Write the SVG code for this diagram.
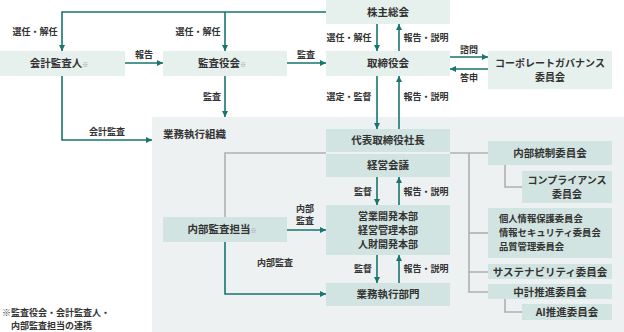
<svg xmlns="http://www.w3.org/2000/svg" width="624" height="332" viewBox="0 0 624 332">
<style>
text{font-family:"Noto Sans CJK JP","Noto Sans CJK SC",sans-serif;fill:#333;}
.n{font-size:10.5px;font-weight:700;text-anchor:middle;}
.m{font-size:10px;font-weight:700;text-anchor:middle;}
.s{font-size:9.3px;font-weight:700;}
.l{font-size:9px;font-weight:700;text-anchor:middle;}
.k{font-size:6px;fill:#999;font-weight:400;}
.top{fill:#e6f1ee;}
.in{fill:#d2e4e1;}
.ta{fill:none;stroke:#16756f;stroke-width:1.6;marker-end:url(#arr);}
.g{fill:none;stroke:#b0b0b0;stroke-width:1.6;}
</style>
<defs>
<marker id="arr" viewBox="0 0 6 6" refX="6" refY="3" markerWidth="6" markerHeight="6" markerUnits="userSpaceOnUse" orient="auto">
<path d="M0,0 L6,3 L0,6 z" fill="#16756f"/>
</marker>
</defs>
<rect x="0" y="0" width="624" height="332" fill="#fff"/>
<g id="org">
<rect x="152" y="117" width="472" height="215" fill="#eef1f2"/>
<text x="163" y="138" style="font-size:10.5px;font-weight:700">業務執行組織</text>
</g>
<g id="connectors">
<path class="g" d="M326,153 H225 V217"/>
<path class="g" d="M450,153 H488"/>
<path class="g" d="M469,153 V292 H488"/>
<path class="g" d="M469,233 H488"/>
<path class="g" d="M469,272 H488"/>
<path class="g" d="M505,165 V187 H522"/>
<path class="g" d="M505,299 V312 H522"/>
<path class="ta" d="M326,12 H62 V51"/>
<path class="ta" d="M225,12 V51"/>
<path class="ta" d="M125,63 H163"/>
<path class="ta" d="M287,63 H326"/>
<path class="ta" d="M225,76 V117"/>
<path class="ta" d="M62,76 V140 H152"/>
<path class="ta" d="M377,24 V51"/>
<path class="ta" d="M399,51 V24"/>
<path class="ta" d="M450,57 H488"/>
<path class="ta" d="M488,69 H450"/>
<path class="ta" d="M377,76 V129"/>
<path class="ta" d="M399,129 V76"/>
<path class="ta" d="M377,177 V205"/>
<path class="ta" d="M399,205 V177"/>
<path class="ta" d="M377,255 V283"/>
<path class="ta" d="M399,283 V255"/>
<path class="ta" d="M287,230 H326"/>
<path class="ta" d="M225,242 V294 H326"/>
<text class="l" x="35" y="35">選任・解任</text>
<text class="l" x="198" y="35">選任・解任</text>
<text class="l" x="144" y="58">報告</text>
<text class="l" x="306" y="58">監査</text>
<text class="l" x="212" y="100">監査</text>
<text class="l" x="107" y="135">会計監査</text>
<text class="l" x="349" y="41">選任・解任</text>
<text class="l" x="426" y="41">報告・説明</text>
<text class="l" x="469" y="53">諮問</text>
<text class="l" x="469" y="81">答申</text>
<text class="l" x="349" y="100">選定・監督</text>
<text class="l" x="426" y="100">報告・説明</text>
<text class="l" x="363" y="195">監督</text>
<text class="l" x="426" y="195">報告・説明</text>
<text class="l" x="363" y="272">監督</text>
<text class="l" x="426" y="272">報告・説明</text>
<text class="l" x="305" y="212">内部</text>
<text class="l" x="305" y="224">監査</text>
<text class="l" x="275" y="266">内部監査</text>
</g>
<g id="kaikei">
<rect class="top" x="0" y="51" width="125" height="25"/>
<text class="n" x="59" y="67">会計監査人<tspan class="k">※</tspan></text>
</g>
<g id="kansayakukai">
<rect class="top" x="163" y="51" width="124" height="25"/>
<text class="n" x="222" y="67">監査役会<tspan class="k">※</tspan></text>
</g>
<g id="kabunushi">
<rect class="top" x="326" y="0" width="124" height="24"/>
<text class="n" x="388" y="16">株主総会</text>
</g>
<g id="torishimariyakukai">
<rect class="top" x="326" y="51" width="124" height="25"/>
<text class="n" x="388" y="67">取締役会</text>
</g>
<g id="cg">
<rect class="top" x="488" y="51" width="124" height="38"/>
<text class="m" x="550" y="67">コーポレートガバナンス</text>
<text class="m" x="550" y="81">委員会</text>
</g>
<g id="shacho">
<rect class="in" x="326" y="129" width="124" height="23"/>
<text class="n" x="388" y="144">代表取締役社長</text>
</g>
<g id="keiei">
<rect class="in" x="326" y="154" width="124" height="23"/>
<text class="n" x="388" y="169">経営会議</text>
</g>
<g id="honbu">
<rect class="in" x="326" y="205" width="124" height="50"/>
<text class="m" x="388" y="220">営業開発本部</text>
<text class="m" x="388" y="234">経営管理本部</text>
<text class="m" x="388" y="248">人財開発本部</text>
</g>
<g id="bumon">
<rect class="in" x="326" y="283" width="124" height="23"/>
<text class="n" x="388" y="298">業務執行部門</text>
</g>
<g id="naibukansa">
<rect class="in" x="163" y="217" width="124" height="25"/>
<text class="n" x="222" y="233">内部監査担当<tspan class="k">※</tspan></text>
</g>
<g id="naibutosei">
<rect class="in" x="488" y="141" width="124" height="24"/>
<text class="n" x="550" y="157">内部統制委員会</text>
</g>
<g id="compliance">
<rect class="in" x="522" y="171" width="90" height="32"/>
<text class="m" x="567" y="183.5">コンプライアンス</text>
<text class="m" x="567" y="197.5">委員会</text>
</g>
<g id="jouhou">
<rect class="in" x="488" y="208" width="124" height="50"/>
<text class="s" x="499" y="222">個人情報保護委員会</text>
<text class="s" x="499" y="236">情報セキュリティ委員会</text>
<text class="s" x="499" y="250">品質管理委員会</text>
</g>
<g id="sustainability">
<rect class="in" x="488" y="264" width="124" height="15"/>
<text class="n" x="550" y="275.5">サステナビリティ委員会</text>
</g>
<g id="chukei">
<rect class="in" x="488" y="284" width="124" height="15"/>
<text class="n" x="550" y="295.5">中計推進委員会</text>
</g>
<g id="ai">
<rect class="in" x="522" y="304" width="90" height="16"/>
<text class="n" x="567" y="316">AI推進委員会</text>
</g>
<g id="note">
<text x="2" y="316" style="font-size:9px;font-weight:700">※監査役会・会計監査人・</text>
<text x="11" y="329" style="font-size:9px;font-weight:700">内部監査担当の連携</text>
</g>
</svg>
